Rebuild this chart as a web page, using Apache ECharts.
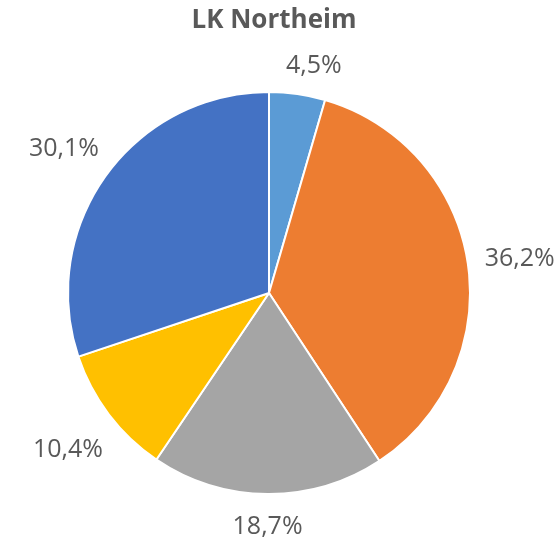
<!DOCTYPE html>
<html>
<head>
<meta charset="utf-8">
<script src="https://cdn.jsdelivr.net/npm/echarts@6/dist/echarts.min.js"></script>
<style>
  html, body { margin: 0; padding: 0; background: #fff; }
  #chart { width: 557px; height: 539px; }
</style>
</head>
<body>
<div id="chart"></div>
<script>
// Anteile in Prozent, im Uhrzeigersinn ab 12 Uhr
const shares = [4.5, 36.2, 18.7, 10.4, 30.1];
const colors = ['#5B9BD5', '#ED7D31', '#A5A5A5', '#FFC000', '#4472C4'];
const titleText = 'LK Northeim';

const cx = 269, cy = 293, r = 201;
const total = shares.reduce((a, b) => a + b, 0);

// Mittelwinkel jedes Segments (Bogenmaß, ab oben im Uhrzeigersinn)
const midAngles = [];
let acc = 0;
shares.forEach(v => {
  midAngles.push((acc + v / 2) / total * Math.PI * 2);
  acc += v;
});

const chart = echarts.init(document.getElementById('chart'));
chart.setOption({
  animation: false,
  title: {
    text: titleText,
    left: cx,
    textAlign: 'center',
    top: 3,
    textStyle: { fontFamily: 'Open Sans', fontSize: 26, fontWeight: 'bold', color: '#595959' }
  },
  series: [{
    type: 'pie',
    center: [cx, cy],
    radius: r,
    startAngle: 90,
    clockwise: true,
    data: shares.map((v, i) => ({ value: v, itemStyle: { color: colors[i] } })),
    itemStyle: { borderColor: '#fff', borderWidth: 2 },
    label: {
      show: true,
      position: 'outside',
      overflow: 'none',
      fontFamily: 'Open Sans',
      fontSize: 25,
      color: '#595959',
      formatter: p => p.value.toFixed(1).replace('.', ',') + '%'
    },
    labelLine: { show: false },
    labelLayout: p => {
      const a = midAngles[p.dataIndex];
      const dx = Math.sin(a), dy = -Math.cos(a);
      const w = p.labelRect.width, h = p.labelRect.height;
      // kleines Segment oben: Excel schiebt das Label etwas nach rechts
      const shift = p.dataIndex === 0 ? 12 : 0;
      const d = r + 16 + Math.abs(dx) * w / 2 + Math.abs(dy) * h / 2;
      return { x: cx + dx * d + shift, y: cy + dy * d + 4, align: 'center', verticalAlign: 'middle' };
    }
  }]
});
</script>
</body>
</html>
